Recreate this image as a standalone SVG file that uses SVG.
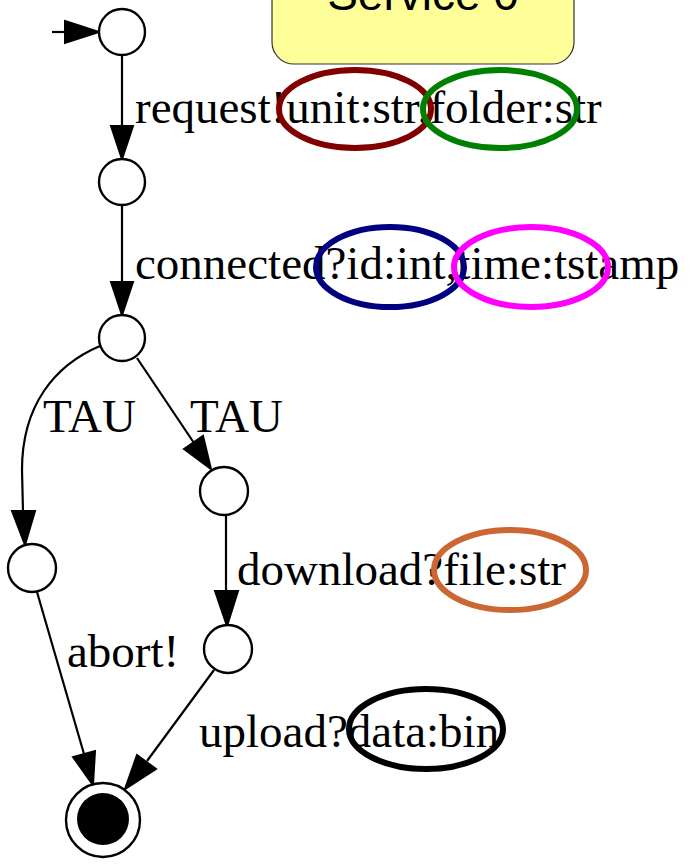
<svg xmlns="http://www.w3.org/2000/svg" width="693" height="864" viewBox="0 0 693 864">
<style>
.st{fill:#fff;stroke:#000;stroke-width:2.4}
.e{fill:none;stroke:#000;stroke-width:2.2}
.ah{fill:#000;stroke:#000;stroke-width:2}
.lb{font-family:"Liberation Serif","Times New Roman",serif;font-size:47px;fill:#000}
.hl{fill:none;stroke-width:6}
</style>
<rect width="693" height="864" fill="#fff"/>
<g id="title">
<rect x="272" y="-20" width="302" height="84" rx="22" fill="#ffff99" stroke="#333" stroke-width="1.2"/>
<text x="423" y="10" text-anchor="middle" font-family="'Liberation Sans',Arial,sans-serif" font-size="46" fill="#000">Service 0</text>
</g>
<g id="edges">
<line class="e" x1="52" y1="32" x2="66" y2="32"/>
<polygon class="ah" points="65,21 99,32 65,43"/>
<line class="e" x1="122" y1="55" x2="122" y2="127"/>
<polygon class="ah" points="111,126 122,159 133,126"/>
<line class="e" x1="122" y1="205" x2="122" y2="283"/>
<polygon class="ah" points="111,282 122,315 133,282"/>
<path class="e" d="M100,346 C55,365 22,405 22,470 L23,512"/>
<polygon class="ah" points="12,511 25,545 35,511"/>
<line class="e" x1="137" y1="358" x2="194" y2="443"/>
<polygon class="ah" points="184,449 211,469 203,436"/>
<line class="e" x1="226" y1="514" x2="226" y2="592"/>
<polygon class="ah" points="215,591 227,626 238,591"/>
<line class="e" x1="37" y1="592" x2="84" y2="754"/>
<polygon class="ah" points="73,757 93,785 95,751"/>
<line class="e" x1="214" y1="670" x2="147" y2="761"/>
<polygon class="ah" points="137,755 125,789 156,769"/>
</g>
<g id="n0"><circle class="st" cx="122" cy="32" r="23"/></g>
<g id="n1"><circle class="st" cx="122" cy="182" r="23"/></g>
<g id="n2"><circle class="st" cx="122" cy="338" r="23"/></g>
<g id="n3"><circle class="st" cx="32" cy="568" r="24"/></g>
<g id="n4"><circle class="st" cx="224" cy="491" r="24"/></g>
<g id="n5"><circle class="st" cx="228" cy="649" r="24"/></g>
<g id="final">
<ellipse cx="103" cy="820" rx="37" ry="37" fill="#fff" stroke="#000" stroke-width="2.4"/>
<circle cx="103" cy="819" r="26" fill="#000"/>
</g>
<g id="labels">
<text class="lb" x="135" y="123">request!unit:str,folder:str</text>
<text class="lb" x="135" y="279">connected?id:int,time:tstamp</text>
<text class="lb" x="43" y="432">TAU</text>
<text class="lb" x="190" y="432">TAU</text>
<text class="lb" x="237" y="585">download?file:str</text>
<text class="lb" x="67" y="667">abort!</text>
<text class="lb" x="199" y="747">upload?data:bin</text>
</g>
<g id="highlights">
<ellipse class="hl" stroke="#800000" cx="355" cy="109" rx="76" ry="39"/>
<ellipse class="hl" stroke="#008000" cx="500" cy="109" rx="77" ry="39"/>
<ellipse class="hl" stroke="#000080" cx="390" cy="267" rx="74" ry="40"/>
<ellipse class="hl" stroke="#ff00ff" cx="531" cy="267" rx="77" ry="40"/>
<ellipse class="hl" stroke="#cc6633" cx="510" cy="570" rx="76" ry="40"/>
<ellipse class="hl" stroke="#000" cx="426" cy="729" rx="77" ry="40"/>
</g>
</svg>
